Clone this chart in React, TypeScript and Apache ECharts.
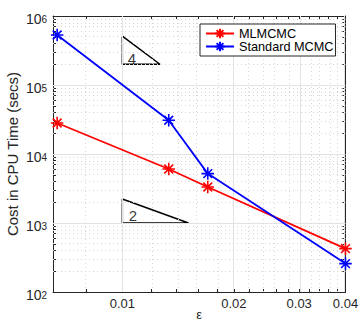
import React, { useEffect, useRef } from 'react';
import * as echarts from 'echarts';

// ---- data ----
const epsilon = [0.00667, 0.01334, 0.017, 0.04];
const mlmcmcCost = [2.81e4, 6.07e3, 3.33e3, 425];
const standardCost = [5.31e5, 3.08e4, 5.2e3, 258];
const seriesNames = ['MLMCMC', 'Standard MCMC'];
const seriesColors = ['#ff0000', '#0000ff'];

const xRange = [0.0065, 0.04];
const yRange = [1e2, 1e6];
const xMajorTicks = [0.01, 0.02, 0.03, 0.04];
const xMinorTicks = [0.008, 0.012, 0.014, 0.016, 0.018, 0.022, 0.024, 0.026, 0.028, 0.032, 0.034, 0.036, 0.038];
const yMajorExponents = [2, 3, 4, 5, 6];
const yMinorMultipliers = [2, 3, 4, 5, 6, 7, 8, 9];

// slope triangles (annotation)
const slope4Triangle = [[0.01, 5.1e5], [0.01, 2.0e5], [0.01263, 2.0e5], [0.01, 5.1e5]];
const slope2Triangle = [[0.01, 2230], [0.01, 1000], [0.01508, 1000], [0.01, 2230]];
const slopeLabelText = ['4', '2'];
const slopeLabelAt = [[0.01062, 2.42e5], [0.01068, 1295]];

const L = Math.log10;
const FONT = "'Liberation Sans', Arial, Helvetica, sans-serif";
const AX = '#262626';

const STAR = 'path://M5 0L5 10M0 5L10 5M1.5 1.5L8.5 8.5M1.5 8.5L8.5 1.5';

export default function App() {
  const ref = useRef<HTMLDivElement>(null);
  useEffect(() => {
    if (!ref.current) return;
    const chart = echarts.init(ref.current, null, { renderer: 'svg' });

    const yMinor: number[] = [];
    yMajorExponents.slice(0, -1).forEach((e) => yMinorMultipliers.forEach((m) => yMinor.push(L(m * Math.pow(10, e)))));
    const yMajor = yMajorExponents.slice();
    const xMajor = xMajorTicks.map(L);
    const xMinor = xMinorTicks.map(L);
    const allX = [...xMajor, ...xMinor];
    const allY = [...yMajor, ...yMinor];

    const gridLines: any[] = [];
    xMajor.forEach((v) => gridLines.push({ xAxis: v, lineStyle: { color: '#e3e3e3', width: 1, type: 'solid' } }));
    yMajor.slice(1, -1).forEach((v) => gridLines.push({ yAxis: v, lineStyle: { color: '#e3e3e3', width: 1, type: 'solid' } }));
    xMinor.forEach((v) => gridLines.push({ xAxis: v, lineStyle: { color: '#d6d6d6', width: 1, type: [1, 3] } }));
    yMinor.forEach((v) => gridLines.push({ yAxis: v, lineStyle: { color: '#d6d6d6', width: 1, type: [1, 3] } }));

    const baseX = {
      type: 'value',
      min: L(xRange[0]),
      max: L(xRange[1]),
      axisLine: { show: true, onZero: false, lineStyle: { color: AX, width: 1 } },
      axisTick: { show: true, inside: true, length: 3, customValues: allX, lineStyle: { color: AX, width: 1 } },
      splitLine: { show: false },
      minorTick: { show: false },
    };
    const baseY = {
      type: 'value',
      min: L(yRange[0]),
      max: L(yRange[1]),
      axisLine: { show: true, onZero: false, lineStyle: { color: AX, width: 1 } },
      axisTick: { show: true, inside: true, length: 3, customValues: allY, lineStyle: { color: AX, width: 1 } },
      splitLine: { show: false },
      minorTick: { show: false },
    };

    const dataSeries = [mlmcmcCost, standardCost].map((vals, i) => ({
      name: seriesNames[i],
      type: 'line',
      z: 5,
      data: vals.map((v, j) => [L(epsilon[j]), L(v)]),
      symbol: STAR,
      symbolSize: 12.5,
      showAllSymbol: true,
      lineStyle: { color: seriesColors[i], width: 1.8 },
      itemStyle: { color: seriesColors[i], borderColor: seriesColors[i], borderWidth: 1.6 },
    }));

    const triSeries = [slope4Triangle, slope2Triangle].map((tri) => ({
      type: 'line',
      z: 4,
      data: tri.map((p) => [L(p[0]), L(p[1])]),
      symbol: 'none',
      lineStyle: { color: '#000', width: 1.5 },
      silent: true,
    }));

    const labelSeries = {
      type: 'scatter',
      z: 4,
      symbolSize: 0,
      silent: true,
      data: slopeLabelAt.map((p, i) => ({ value: [L(p[0]), L(p[1])], name: slopeLabelText[i] })),
      label: {
        show: true,
        position: 'inside',
        formatter: (p: any) => p.name,
        fontSize: 15,
        fontFamily: FONT,
        color: '#000',
      },
    };

    chart.setOption({
      animation: false,
      backgroundColor: '#ffffff',
      textStyle: { fontFamily: FONT },
      grid: { left: 53, right: 14.5, top: 16, bottom: 30, outerBoundsMode: 'none', containLabel: false },
      legend: {
        data: seriesNames,
        orient: 'vertical',
        left: 200,
        top: 24,
        padding: [3, 2, 3, 5],
        itemGap: 0,
        itemWidth: 28,
        itemHeight: 12,
        backgroundColor: '#ffffff',
        borderColor: AX,
        borderWidth: 1,
        borderRadius: 0,
        textStyle: { fontSize: 12.7, fontFamily: FONT, color: '#000', lineHeight: 11 },
        z: 10,
      },
      xAxis: [
        {
          ...baseX,
          position: 'bottom',
          name: 'ε',
          nameLocation: 'middle',
          nameGap: 15,
          nameMoveOverlap: false,
          nameTextStyle: { fontSize: 13, color: AX, fontFamily: FONT, lineHeight: 14 },
          axisLabel: {
            show: true,
            customValues: xMajor,
            margin: 5,
            fontSize: 13,
            color: AX,
            fontFamily: FONT,
            formatter: (v: number) => Math.pow(10, v).toFixed(2),
          },
        },
        { ...baseX, position: 'top', axisLabel: { show: false } },
      ],
      yAxis: [
        {
          ...baseY,
          position: 'left',
          name: 'Cost in CPU Time (secs)',
          nameLocation: 'middle',
          nameGap: 33,
          nameMoveOverlap: false,
          nameTextStyle: { fontSize: 15, color: AX, fontFamily: FONT },
          axisLabel: {
            show: true,
            customValues: yMajor,
            margin: 6,
            fontSize: 14,
            color: AX,
            fontFamily: FONT,
            padding: [5, 0, 0, 0],
            formatter: (v: number) => `{b|10}{s|${Math.round(v)}}`,
            rich: {
              b: { fontSize: 14, lineHeight: 15, verticalAlign: 'bottom', color: AX, fontFamily: FONT },
              s: { fontSize: 10, lineHeight: 10, verticalAlign: 'top', padding: [3, 0, 7, 0], color: AX, fontFamily: FONT },
            },
          },
        },
        { ...baseY, position: 'right', axisLabel: { show: false } },
      ],
      series: [
        {
          type: 'line',
          z: 1,
          data: [],
          silent: true,
          markLine: { silent: true, symbol: ['none', 'none'], label: { show: false }, animation: false, data: gridLines },
        },
        ...triSeries,
        labelSeries,
        ...dataSeries,
      ],
    });

    return () => chart.dispose();
  }, []);

  return (
    <div
      ref={ref}
      style={{ position: 'fixed', left: 0, top: 0, width: 360, height: 322, background: '#fff' }}
    />
  );
}
